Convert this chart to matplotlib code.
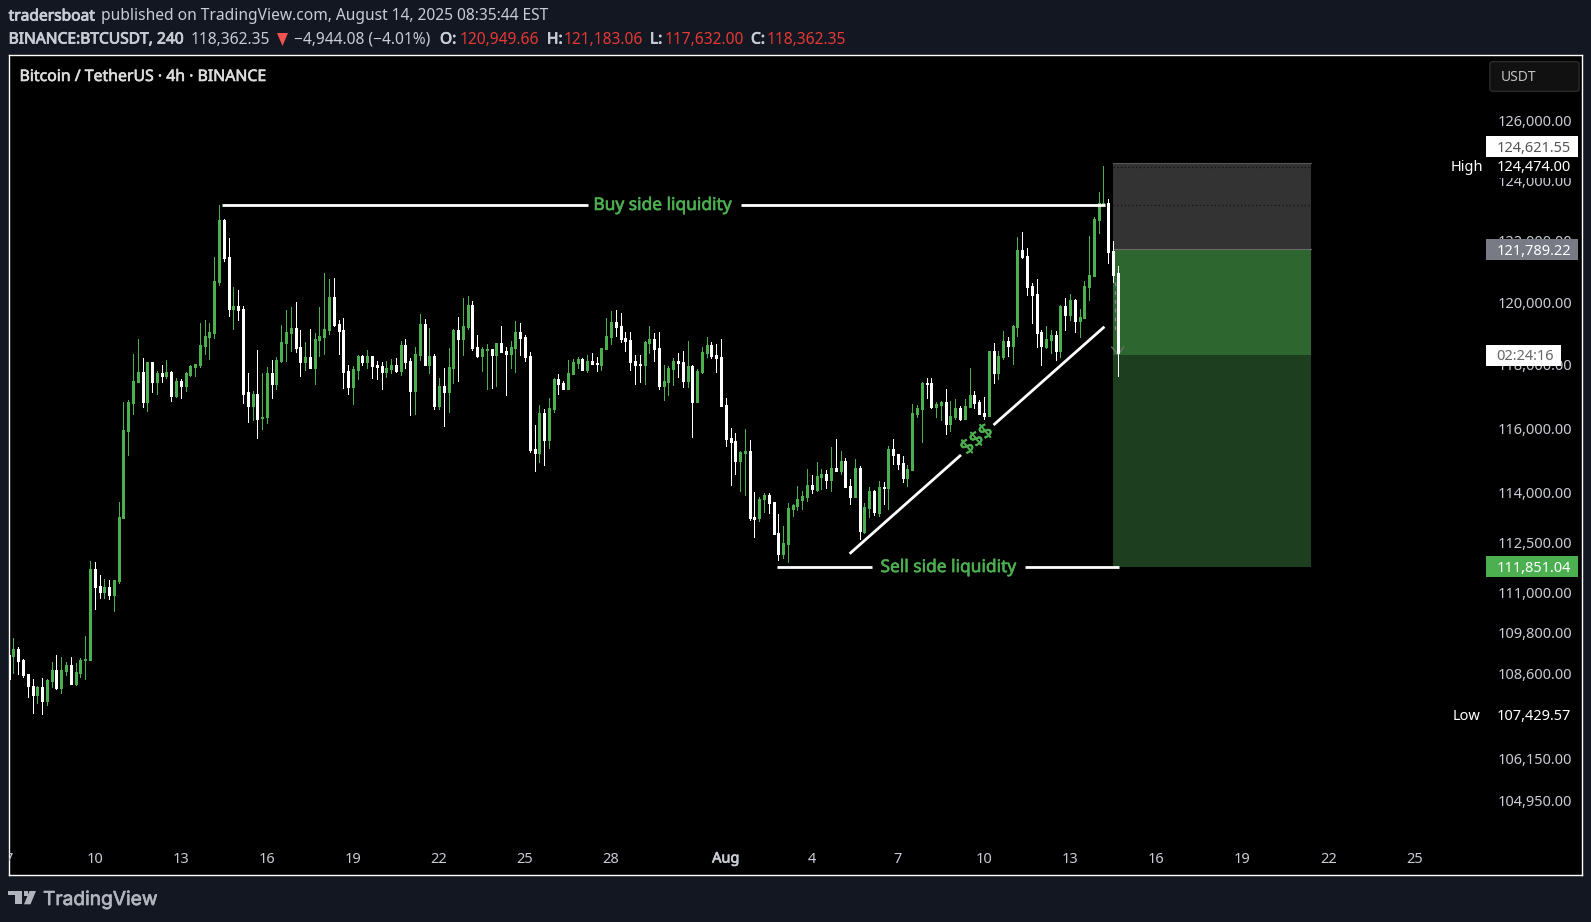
import numpy as np
import matplotlib
matplotlib.use("Agg")
import matplotlib.pyplot as plt
import matplotlib.patheffects as pe
from matplotlib.patches import Rectangle, FancyBboxPatch, Polygon

W, H = 1591, 922
BG = "#131722"
GREEN = "#4caf50"
TXT = "#c9ccd4"
plt.rcParams["font.family"] = ["Noto Sans", "DejaVu Sans"]

# 4h candles from 7 July, one row of ten per line
opens = [109150,109120,109320,109000,108590,108240,107980,108210,107800,108380,
         108700,108180,108670,108860,108300,108620,108980,108980,111700,111190,
         110990,111160,110920,111320,113220,115920,116800,117460,117780,116820,
         118070,117460,117720,117650,117780,117020,117490,117340,117680,117930,
         118000,118600,118890,119020,120660,122690,121450,119780,119880,119780,
         117120,116710,117080,116330,116340,117720,117400,118120,118700,119020,
         119170,118570,118070,118250,117900,118790,118890,119100,120170,119300,
         119100,117800,117300,117840,118290,118100,118290,118000,117970,117780,
         117870,118000,117800,118630,118120,117170,118310,119300,117990,118280,
         116700,117330,117140,117900,119110,118820,119200,119910,118560,118280,
         118470,118500,118310,118690,118430,118340,118530,119050,118880,118280,
         115360,115230,116480,115640,116610,117550,117420,117230,117710,118060,
         118180,117830,118120,118060,117990,118500,118880,119370,119240,118850,
         118790,118120,118020,117990,118690,118820,118530,117330,117460,117870,
         118120,118090,117490,117960,116830,117770,118370,118630,118310,118250,
         116730,115700,115610,114990,115230,115300,113270,113230,113820,113940,
         113730,112780,112150,112450,113510,113600,113790,113890,114250,114090,
         114490,114590,114400,114770,114680,114990,114220,113880,114770,112810,
         113540,114060,113390,114190,114160,115360,115200,114920,114460,114710,
         116450,116600,117420,117420,116670,116730,116820,116130,116350,116640,
         116290,116670,117040,116820,116480,116380,118440,117740,118250,118760,
         118600,119200,121690,121500,120520,120260,119040,118560,118790,118950,
         118440,119880,119590,120070,119400,119490,120490,120850,122680,123210,
         123240,121660,120950]
highs = [109150,109645,109380,109030,108590,108440,108240,108470,108440,108940,
         109150,109090,108920,109090,108890,109060,109710,111940,111910,111520,
         111380,111350,111350,113730,116820,116890,118350,118820,118220,118100,
         118070,117790,118000,118150,117800,117590,117530,117780,118000,118030,
         119340,119440,119340,121450,123180,122720,122100,120490,120400,119880,
         117720,117170,118450,117750,117930,118150,118250,119270,119760,119850,
         120020,119100,118730,119140,119000,119850,120950,120760,120780,119440,
         119490,118000,117970,118320,118320,118450,118290,118120,118100,118120,
         118190,118220,118760,118820,118200,118560,119620,119460,119170,118340,
         117580,117900,118530,119140,119530,120140,120200,120040,118950,118560,
         118660,118500,118690,119240,118560,118760,119400,119340,118950,118400,
         116100,116730,116610,116950,117580,117710,117490,118150,118180,118250,
         118210,118310,118370,118250,118530,119490,119720,119750,119650,119050,
         119050,118310,118310,118760,119240,119010,119050,117990,117960,118220,
         118370,118440,118760,117990,117870,118560,118880,118720,118660,118820,
         116950,116010,115860,115300,115980,115640,114030,113880,113990,113990,
         113730,113360,112990,113690,113670,114220,114050,114730,114550,114950,
         114730,114710,115410,115670,115280,115080,114430,115050,114830,113690,
         114190,114090,114370,114340,115450,115670,115200,115140,114860,116760,
         116730,117450,117580,117580,116820,116860,117230,116860,116920,116700,
         116920,117900,117170,116890,116980,118440,118690,118440,119080,118880,
         119270,122120,122290,121760,120620,120750,119110,119240,119110,119080,
         119910,120140,120260,120100,119780,120690,122160,122780,123610,124474,
         123370,121990,121183]
lows = [108440,108620,108590,108500,107920,107460,107740,107430,107690,108190,
        108150,108030,108560,108300,108270,108500,108440,108980,110500,110830,
        110830,110800,110450,111280,113220,115180,116460,117460,116670,116540,
        117120,117080,117460,117590,116860,116990,116950,117170,117650,117650,
        117930,118350,118190,118850,120540,121320,119560,119140,119440,116800,
        116200,116260,115690,115990,116150,116950,117240,118070,118120,118420,
        118390,117650,117820,117900,117400,118290,118350,118980,119240,118350,
        117270,117080,116770,117550,118000,117900,117590,117550,117240,117620,
        117720,117780,117680,117900,116420,116450,118150,117990,117740,116610,
        116610,116070,116510,117420,117490,118310,119140,118470,118250,117800,
        117230,117270,117330,118400,117050,117900,117770,118310,118120,115260,
        114680,114950,114860,115390,116510,117080,117230,117230,117710,117900,
        117830,117770,118020,117800,117830,118500,118660,118920,118720,118440,
        117830,117390,117460,117390,118370,118120,117230,116890,117050,117360,
        117610,117300,117300,115730,116830,117740,118250,118210,117770,116700,
        115450,114250,114580,114060,113940,113180,112660,113150,113430,113380,
        112750,111950,112010,111890,113300,113480,113500,113740,114010,114070,
        114110,114160,114070,114680,114590,114190,113670,113880,112600,112770,
        113260,113330,113300,113670,113510,114890,114740,114340,114220,114710,
        116350,115570,116950,116640,116350,116260,115820,115920,116290,116260,
        116290,116670,116640,116450,116290,116380,117420,117550,118180,118280,
        118020,118920,121430,120230,119330,118560,117990,118530,118370,118150,
        118250,119110,119430,119040,118880,119490,120070,120850,122250,123180,
        121270,120650,117632]
closes = [108440,109320,108970,108560,108220,107980,108210,107800,108410,108700,
          108180,108700,108860,108300,108640,109000,109000,111700,111160,110990,
          111160,110920,111350,113250,115950,116820,117490,117780,116820,118070,
          117460,117720,117650,117780,117020,117490,117340,117720,117970,118030,
          118640,118920,119050,120700,122690,121420,119780,119880,119760,117080,
          116710,117080,116300,116360,117720,117400,118150,118730,119050,119170,
          118540,118070,118250,117900,118820,118920,119140,120170,119270,119080,
          117780,117300,117870,118290,118100,118290,117970,117930,117780,117900,
          118000,117800,118630,118090,117170,118340,119300,117990,118280,116700,
          117330,117140,117930,119110,118820,119240,119910,118520,118280,118500,
          118500,118310,118690,118400,118340,118560,119050,118850,118250,115330,
          115230,116480,115640,116640,117550,117390,117230,117740,118090,118180,
          117830,118120,118020,118020,118530,118920,119370,119200,118820,118760,
          118090,117990,117990,118720,118820,118500,117330,117490,117900,118120,
          118060,117490,117960,116830,117800,118400,118630,118280,118210,116700,
          115670,115570,114990,115260,115300,113240,113210,113820,113930,113690,
          112750,112150,112470,113530,113640,113820,113910,114250,114120,114520,
          114590,114400,114770,114680,114990,114190,113880,114770,112840,113570,
          114060,113420,114190,114160,115360,115170,114890,114460,114740,116480,
          116640,117420,117390,116670,116760,116820,116130,116380,116640,116290,
          116700,117040,116790,116450,116380,118440,117740,118280,118760,118600,
          119240,121690,121470,120490,120230,119010,118600,118820,118950,118440,
          119880,119590,120070,119400,119520,120520,120880,122710,123240,123240,
          121630,120880,118362]

price_ticks = [126000, 124000, 122000, 120000, 118000, 116000, 114000, 112500,
               111000, 109800, 108600, 106150, 104950]
date_pos = [0, 18, 36, 54, 72, 90, 108, 126, 150, 168, 186, 204, 222, 240, 258, 276, 294]
date_labels = ["7", "10", "13", "16", "19", "22", "25", "28", "Aug", "4", "7", "10",
               "13", "16", "19", "22", "25"]

buy_level = 123176
sell_level = 111750
box_top, box_stop, box_entry = 124590, 121730, 118320
box_left, box_right = 231, 272.4
trend_x = [175.9, 199.2, 206.0, 229.2]
trend_y = [112150, 115170, 116100, 119210]


def fx(px):
    return px / W


def fy(px):
    return 1 - px / H


def heavy(t, color, amount=0.55):
    # the installed fonts have no usable bold here, so thicken with a stroke
    t.set_path_effects([pe.withStroke(linewidth=amount, foreground=color)])
    return t


def ftext(x, y, s, color=TXT, size=10.5, bold=0, ha="left", zorder=20):
    t = fig.text(fx(x), fy(y + 1.5), s, color=color, fontsize=size, ha=ha, va="center", zorder=zorder)
    if bold:
        heavy(t, color, bold)
    return t


def tag(x0, x1, y0, y1, s, fc, tc):
    fig.add_artist(Rectangle((fx(x0), fy(y1)), (x1 - x0) / W, (y1 - y0) / H,
                             transform=fig.transFigure, fc=fc, ec="none", zorder=15))
    ftext(1571 if x1 > 1570 else x1 - 7, (y0 + y1) / 2, s, color=tc, ha="right")


fig = plt.figure(figsize=(W / 100, H / 100), dpi=100, facecolor=BG)
ax = fig.add_axes([8.5 / W, 1 - 875 / H, (1582 - 8.5) / W, (875 - 55) / H], facecolor="black")
ax.set_yscale("log")
ax.set_xlim(-0.04, 329.1)
ax.set_ylim(102870, 128245)
ax.set_xticks([])
ax.set_yticks([])
ax.minorticks_off()
for s in ax.spines.values():
    s.set_color("white")
    s.set_linewidth(1)

# trade boxes
ax.fill_between([box_left, box_right], box_stop, box_top, color="#333333", lw=0, zorder=1)
ax.fill_between([box_left, box_right], box_entry, box_stop, color="#2e6630", lw=0, zorder=1)
ax.fill_between([box_left, box_right], sell_level, box_entry, color="#1d3f1f", lw=0, zorder=1)
ax.plot([box_left, box_right], [box_stop, box_stop], color="#6a6a6a", lw=0.8, zorder=1.5)
ax.plot([box_left, box_right], [box_top, box_top], color="#555555", lw=0.8, zorder=1.5)
for lev in [124440, 123170]:
    ax.plot([box_left, box_right], [lev, lev], color="#111111", lw=0.9, ls=(0, (1, 2)), zorder=1.5)

# faint marker left under the last candle
ax.plot([231.4, 231.4], [120660, 119020], color="#8a8a8a", lw=0.9, ls=(0, (3, 4)), zorder=2)
ax.plot([230.7, 232.1, 233.2], [118560, 118310, 118560], color="#777777", lw=0.8, zorder=2)

# candles
x = np.arange(len(closes))
o, hi, lo, c = map(np.array, (opens, highs, lows, closes))
up = c >= o
cols = np.where(up, GREEN, "white")
ax.vlines(x, lo, hi, colors=cols, lw=0.72, zorder=3, antialiased=False)
body_lo = np.minimum(o, c)
body_hi = np.maximum(np.maximum(o, c), body_lo + 35)
ax.vlines(x, body_lo, body_hi, colors=cols, lw=2.16, zorder=3.2, antialiased=False, capstyle="butt")

# hand drawn lines
LW = 2.0
for xs, ys in [([44.6, 121.1], [buy_level, buy_level]), ([153.1, 229.4], [buy_level, buy_level]),
               ([160.8, 180.6], [sell_level, sell_level]), ([212.5, 232.3], [sell_level, sell_level]),
               (trend_x[:2], trend_y[:2]), (trend_x[2:], trend_y[2:])]:
    ax.plot(xs, ys, color="white", lw=LW, solid_capstyle="butt", zorder=5)
heavy(ax.text(136.8, buy_level, "Buy side liquidity", color=GREEN, fontsize=12.5,
              ha="center", va="center", zorder=6), GREEN, 0.45)
heavy(ax.text(196.6, sell_level, "Sell side liquidity", color=GREEN, fontsize=12.5,
              ha="center", va="center", zorder=6), GREEN, 0.45)
heavy(ax.text(202.6, 115630, "$$$", color=GREEN, fontsize=15, rotation=40, rotation_mode="anchor",
              ha="center", va="center", zorder=6), GREEN, 0.4)

# price scale labels
yax = ax.get_yaxis_transform()
for p in price_ticks:
    ax.annotate(f"{p:,.2f}", (0.99365, p), xycoords=yax, xytext=(0, -2), textcoords="offset pixels",
                color=TXT, fontsize=10.5, ha="right", va="center", zorder=7)

# date labels
xax = ax.get_xaxis_transform()
for d, lab in zip(date_pos, date_labels):
    t = ax.text(d, 16 / 820, lab, transform=xax, color=TXT, fontsize=10.5, ha="center", va="center",
                zorder=7, clip_on=True)
    if lab == "Aug":
        heavy(t, TXT, 0.5)

# header
ftext(8.6, 15, "tradersboat", bold=0.6, size=11.2)
ftext(101, 15, "published on TradingView.com, August 14, 2025 08:35:44 EST", size=11.2)
ftext(8.6, 38, "BINANCE:BTCUSDT, 240", bold=0.6, size=11.2)
ftext(191, 38, "118,362.35", size=11.2)
ftext(294, 38, "\u22124,944.08 (\u22124.01%)", size=11.2)
RED = "#e53935"
fig.add_artist(Polygon([[fx(277), fy(33)], [fx(288), fy(33)], [fx(282.5), fy(46)]],
                       transform=fig.transFigure, fc="#ef5350", ec="none"))
for xl, lab, xv, val in [(440, "O:", 460, "120,949.66"), (547, "H:", 564, "121,183.06"),
                         (650, "L:", 665, "117,632.00"), (751, "C:", 767, "118,362.35")]:
    ftext(xl, 38, lab, bold=0.6, size=11.2)
    ftext(xv, 38, val, color=RED, size=11.2)

ftext(19.5, 75.5, "Bitcoin / TetherUS \u00b7 4h \u00b7 BINANCE", color="#dcdcdc", size=11.4, bold=0.45)

# USDT button
fig.add_artist(FancyBboxPatch((fx(1494), fy(89)), 81 / W, 25 / H,
                              boxstyle="round,pad=0.0026", transform=fig.transFigure,
                              fc="#111111", ec="#2c2c2c", lw=1, zorder=14))
ftext(1501, 76, "USDT", color="#c0c0c0", size=10)

# right side tags
fig.add_artist(Rectangle((fx(1450), fy(178)), 128 / W, 22 / H, transform=fig.transFigure,
                         fc="black", ec="none", zorder=14))
tag(1486, 1578, 136, 157, "124,621.55", "white", "#555555")
tag(1486, 1578, 239, 260, "121,789.22", "#787b86", "white")
tag(1486, 1561, 345, 366, "02:24:16", "white", "#666666")
tag(1486, 1578, 556, 577, "111,851.04", GREEN, "white")
ftext(1451, 166, "High", color="white", size=10.5)
ftext(1571, 166, "124,474.00", color="white", ha="right")
ftext(1453, 715, "Low", color="white", size=10.5)
ftext(1571, 715, "107,429.57", color="white", ha="right")

# logo
LOGO = "#b2b5be"
fig.add_artist(Polygon([[fx(8), fy(891)], [fx(21.7), fy(891)], [fx(21.7), fy(904.3)], [fx(14.7), fy(904.3)],
                        [fx(14.7), fy(895)], [fx(8), fy(895)]], transform=fig.transFigure, fc=LOGO, ec="none"))
fig.add_artist(Polygon([[fx(29.5), fy(891)], [fx(36), fy(891)], [fx(30.5), fy(904.3)], [fx(24), fy(904.3)]],
                       transform=fig.transFigure, fc=LOGO, ec="none"))
fig.add_artist(Rectangle((fx(24), fy(895.5)), 4 / W, 4.5 / H, transform=fig.transFigure, fc=LOGO, ec="none"))
heavy(fig.text(fx(43), fy(900), "TradingView", color=LOGO, fontsize=13.8, family="Inter", ha="left", va="center"),
      LOGO, 0.5)

fig.savefig("out.png", dpi=100, facecolor=BG)
